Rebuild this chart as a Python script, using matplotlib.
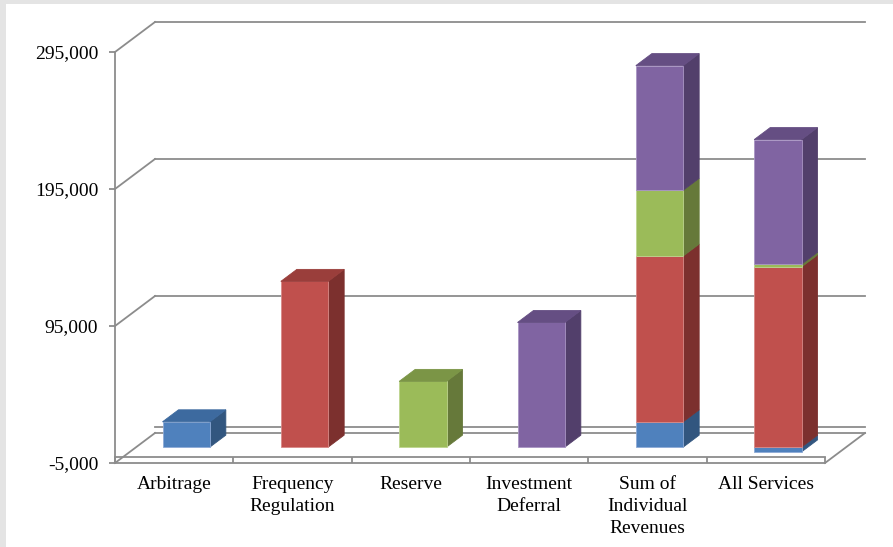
import matplotlib
matplotlib.use("Agg")
import matplotlib.pyplot as plt
from matplotlib.patches import Polygon, Rectangle
from matplotlib.ticker import FuncFormatter, FixedLocator

# ---- data -------------------------------------------------------------
categories = ["Arbitrage", "Frequency\nRegulation", "Reserve",
              "Investment\nDeferral", "Sum of\nIndividual\nRevenues",
              "All Services"]
arbitrage = [18500, 0, 0, 0, 18500, -3500]
frequency_regulation = [0, 121000, 0, 0, 121000, 131500]
reserve = [0, 0, 48000, 0, 48000, 2000]
investment_deferral = [0, 0, 0, 91000, 91000, 91000]
y_ticks = [-5000, 95000, 195000, 295000]

series = [arbitrage, frequency_regulation, reserve, investment_deferral]
# (front, top, side) shades for each series
shades = [
    ("#4F81BD", "#3D6A9F", "#32567F"),
    ("#C0504D", "#9A3E3B", "#7C302E"),
    ("#9BBB59", "#7B9546", "#66793A"),
    ("#8064A2", "#654E83", "#523F6B"),
]
edge_light = ["#8DAAD6", "#D88A88", "#BDD48E", "#A995C4"]

# ---- figure -----------------------------------------------------------
W, H = 893, 547
fig = plt.figure(figsize=(W / 100, H / 100), dpi=100)
fig.patch.set_facecolor("#e4e4e4")
fig.add_artist(Rectangle((6 / W, 0), 1 - 6 / W, 1 - 4 / H,
                         transform=fig.transFigure, facecolor="white",
                         edgecolor="none", zorder=0))

ax = fig.add_axes([115 / W, 84 / H, 710 / W, 411 / H])
ax.set_facecolor("none")
ax.set_xlim(0, len(categories))
ax.set_ylim(y_ticks[0], y_ticks[-1])

# depth of the 3-D box expressed in data units
p0 = ax.transData.transform((0, 0))
inv = ax.transData.inverted()
q = inv.transform((p0[0] + 40, p0[1] + 30))
DX, DY = q[0], q[1]

GRID = "#8C8C8C"
LW = 1.3
floor_top = y_ticks[0] + 6 * (y_ticks[-1] - y_ticks[0]) / 411
n = len(categories)

# back wall gridlines and side wall diagonals
for v in y_ticks[1:]:
    ax.plot([DX, n + DX], [v + DY, v + DY], color=GRID, lw=LW,
            clip_on=False, zorder=1)
    ax.plot([0, DX], [v, v + DY], color=GRID, lw=LW, clip_on=False, zorder=1)

# floor slab
base = y_ticks[0]
ax.plot([DX, n + DX], [base + DY, base + DY], color=GRID, lw=LW,
        clip_on=False, zorder=1)
ax.plot([DX, n + DX], [floor_top + DY, floor_top + DY], color=GRID, lw=LW,
        clip_on=False, zorder=1)
ax.plot([0, DX], [base, base + DY], color=GRID, lw=LW, clip_on=False, zorder=1)
ax.plot([n, n + DX], [base, base + DY], color=GRID, lw=LW, clip_on=False,
        zorder=1)
ax.plot([0, n], [floor_top, floor_top], color=GRID, lw=LW, clip_on=False,
        zorder=2)

# ---- 3-D stacked columns ----------------------------------------------
BAR_W = 0.4
Z0, Z1 = 0.3, 0.7


def face(pts, color, edge, z):
    ax.add_patch(Polygon(pts, closed=True, facecolor=color, edgecolor=edge,
                         lw=0.6, clip_on=False, zorder=z))


for i in range(n):
    x0 = i + 0.5 - BAR_W / 2
    x1 = i + 0.5 + BAR_W / 2
    pos, neg = 0.0, 0.0
    segs = []
    for s, vals in enumerate(series):
        v = vals[i]
        if v > 0:
            segs.append((pos, pos + v, s))
            pos += v
        elif v < 0:
            segs.append((neg + v, neg, s))
            neg += v
    segs.sort(key=lambda t: t[0])
    for k, (b, t, s) in enumerate(segs):
        fr, tp, sd = shades[s]
        z = 3 + k * 0.01
        fx0, fx1 = x0 + Z0 * DX, x1 + Z0 * DX
        bx1 = x1 + Z1 * DX
        fb, ft = b + Z0 * DY, t + Z0 * DY
        bb, bt = b + Z1 * DY, t + Z1 * DY
        face([(fx1, fb), (bx1, bb), (bx1, bt), (fx1, ft)], sd, sd, z)
        face([(fx0, fb), (fx1, fb), (fx1, ft), (fx0, ft)], fr, edge_light[s], z)
        if k == len(segs) - 1:
            face([(fx0, ft), (fx1, ft), (bx1, bt), (x0 + Z1 * DX, bt)],
                 tp, tp, z)

# ---- axes, ticks, labels ----------------------------------------------
for side in ("top", "right"):
    ax.spines[side].set_visible(False)
for side in ("left", "bottom"):
    ax.spines[side].set_color(GRID)
    ax.spines[side].set_linewidth(LW)

font = {"family": "Liberation Serif", "size": 14}
ax.yaxis.set_major_locator(FixedLocator(y_ticks))
ax.yaxis.set_major_formatter(FuncFormatter(lambda v, p: f"{int(v):,}"))
ax.tick_params(axis="y", direction="out", length=4, width=LW, color=GRID,
               pad=8)
ax.set_xticks([i + 0.5 for i in range(n)])
ax.set_xticklabels(categories, linespacing=1.38)
ax.set_xticks(range(n + 1), minor=True)
ax.tick_params(axis="x", which="major", length=0, pad=9.5)
ax.tick_params(axis="x", which="minor", direction="in", length=4.3,
               width=LW, color=GRID)
for lab in ax.get_xticklabels() + ax.get_yticklabels():
    lab.set_fontfamily(font["family"])
    lab.set_fontsize(font["size"])
    lab.set_color("black")
for lab in ax.get_xticklabels():
    lab.set_verticalalignment("top")

fig.savefig("out.png", dpi=100, facecolor=fig.get_facecolor())
